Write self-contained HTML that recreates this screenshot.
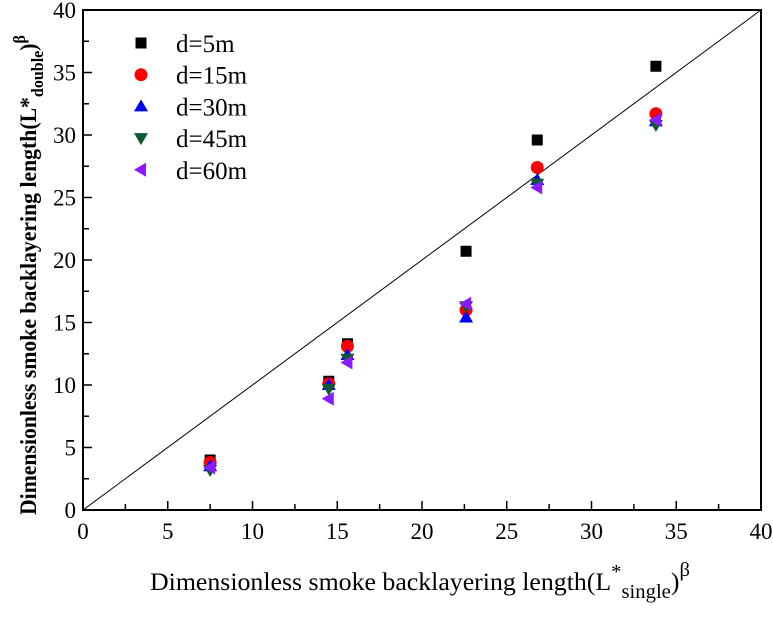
<!DOCTYPE html>
<html><head><meta charset="utf-8"><style>
body{margin:0;background:#fff}
text{font-family:"Liberation Serif","Times New Roman",serif !important;fill:#000}
</style></head><body>
<svg width="773" height="614" xmlns="http://www.w3.org/2000/svg" id="chart" font-family="Liberation Serif, serif">
<g id="ticks"></g>
<g id="marks"></g>
<rect x="83" y="10" width="678" height="500" fill="none" stroke="#000" stroke-width="2"/>
<text x="150" y="590" font-size="25" textLength="540" lengthAdjust="spacingAndGlyphs">Dimensionless smoke backlayering length(L<tspan font-size="20" dy="-12">*</tspan><tspan font-size="20" dy="20">single</tspan><tspan dy="-8">)</tspan><tspan font-size="20" dy="-14">β</tspan></text>
<text transform="translate(36,515) rotate(-90)" font-size="23" font-weight="bold" textLength="480" lengthAdjust="spacingAndGlyphs">Dimensionless smoke backlayering length(L*<tspan font-size="17" dy="7">double</tspan><tspan dy="-7">)</tspan><tspan font-size="17" dy="-11">β</tspan></text>
<g id="legend"></g>
</svg>
<script>
const xCats=[7.5,14.5,15.6,22.6,26.8,33.8];
const s5=[4.0,10.3,13.3,20.7,29.6,35.5];
const s15=[3.8,10.1,13.1,16.0,27.4,31.7];
const s30=[3.5,10.0,12.4,15.4,26.4,31.1];
const s45=[3.2,9.7,12.1,16.3,26.1,30.8];
const s60=[3.4,8.9,11.8,16.5,25.8,31.2];
const tickVals=[0,5,10,15,20,25,30,35,40];
const seriesNames=['d=5m','d=15m','d=30m','d=45m','d=60m'];
const NS='http://www.w3.org/2000/svg';
const X=v=>83+v*(678/40), Y=v=>510-v*(500/40);
function mk(t,a,p){const e=document.createElementNS(NS,t);for(const k in a)e.setAttribute(k,a[k]);p.appendChild(e);return e;}
const tg=document.getElementById('ticks');
for(let i=0;i<=16;i++){const v=i*2.5,len=i%2?6:9;
mk('line',{x1:X(v),x2:X(v),y1:510,y2:510-len,stroke:'#000','stroke-width':1.5},tg);
mk('line',{x1:83,x2:83+len,y1:Y(v),y2:Y(v),stroke:'#000','stroke-width':1.5},tg);}
tickVals.forEach(v=>{
const a=mk('text',{x:X(v),y:539,'font-size':23,'text-anchor':'middle'},tg);a.textContent=v;

const b=mk('text',{x:76,y:Y(v)+8,'font-size':23,'text-anchor':'end'},tg);b.textContent=v;
});
const diag=mk('line',{x1:X(0),y1:Y(0),x2:X(40),y2:Y(40),stroke:'#000','stroke-width':1},tg);

const colors=['#000','#ff0000','#0000ff','#0b5a32','#8a1aff'];
function marker(k,x,y,p){const c=colors[k];
if(k==0)return mk('rect',{x:x-5.5,y:y-5.5,width:11,height:11,fill:c},p);
if(k==1)return mk('circle',{cx:x,cy:y,r:6.5,fill:c},p);
if(k==2)return mk('polygon',{points:`${x},${y-7} ${x+7},${y+5} ${x-7},${y+5}`,fill:c},p);
if(k==3)return mk('polygon',{points:`${x},${y+7} ${x+7},${y-5} ${x-7},${y-5}`,fill:c},p);
return mk('polygon',{points:`${x-7},${y} ${x+5},${y-7} ${x+5},${y+7}`,fill:c},p);}
const mg=document.getElementById('marks');
[s5,s15,s30,s45,s60].forEach((s,k)=>s.forEach((v,i)=>{const m=marker(k,X(xCats[i]),Y(v),mg);

}));
const lg=document.getElementById('legend');
seriesNames.forEach((n,k)=>{const y=43+k*31.7;const m=marker(k,141,y,lg);

const t=mk('text',{x:176,y:y+9,'font-size':25},lg);t.textContent=n;
});
</script>
</body></html>
